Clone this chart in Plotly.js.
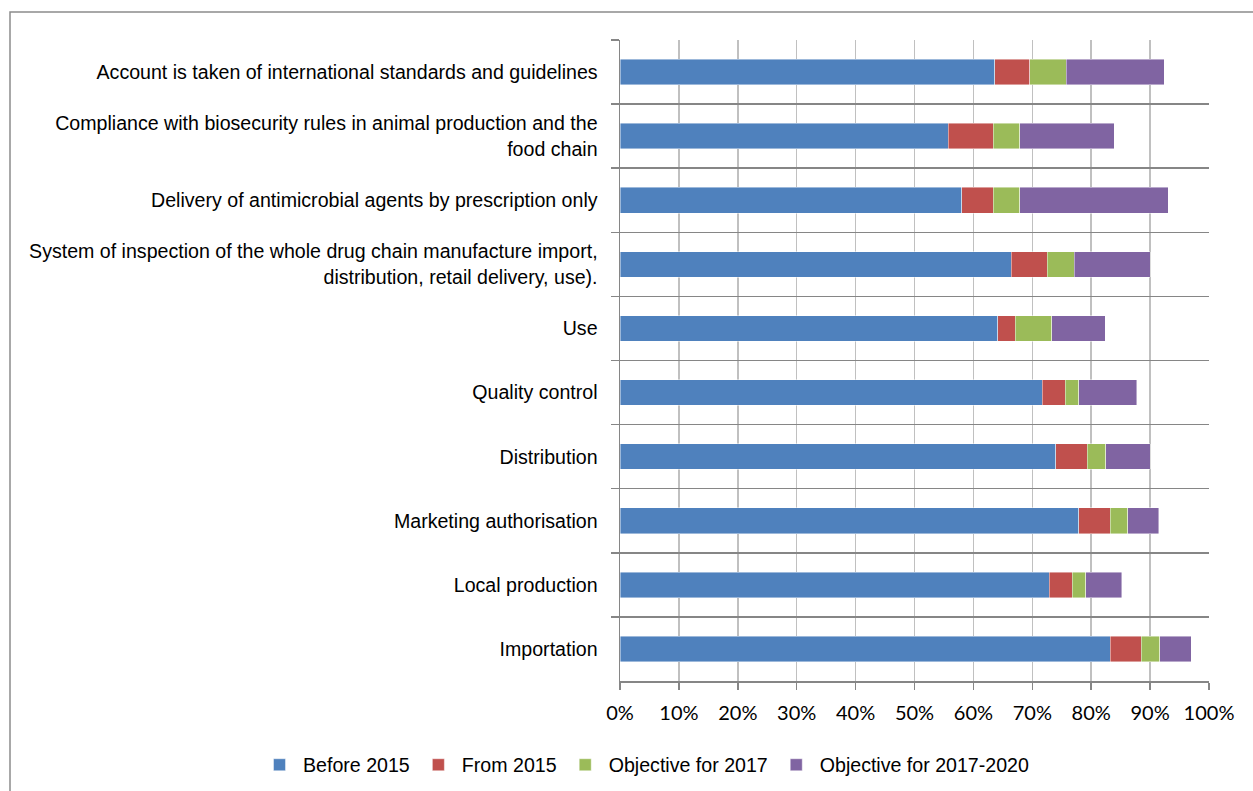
<!DOCTYPE html>
<html>
<head>
<meta charset="utf-8">
<script src="https://cdn.plot.ly/plotly-3.0.1.min.js"></script>
<style>
html,body{margin:0;padding:0;background:#fff;}
#chart{width:1253px;height:791px;}
</style>
</head>
<body>
<div id="chart"></div>
<script>
// Categories, top to bottom as in the reference
var categories = [
  "Account is taken of international standards and guidelines",
  "Compliance with biosecurity rules in animal production and the<br>food chain",
  "Delivery of antimicrobial agents by prescription only",
  "System of inspection of the whole drug chain manufacture import,<br>distribution, retail delivery, use).",
  "Use",
  "Quality control",
  "Distribution",
  "Marketing authorisation",
  "Local production",
  "Importation"
];
var seriesNames = ["Before 2015", "From 2015", "Objective for 2017", "Objective for 2017-2020"];
var before2015    = [0.636, 0.557, 0.580, 0.664, 0.641, 0.717, 0.740, 0.779, 0.729, 0.832];
var from2015      = [0.060, 0.077, 0.054, 0.061, 0.030, 0.039, 0.053, 0.053, 0.039, 0.053];
var objective2017 = [0.062, 0.045, 0.045, 0.046, 0.062, 0.023, 0.032, 0.030, 0.023, 0.031];
var objective2020 = [0.166, 0.160, 0.252, 0.129, 0.091, 0.098, 0.075, 0.053, 0.061, 0.054];
var xTickVals = [0, 0.1, 0.2, 0.3, 0.4, 0.5, 0.6, 0.7, 0.8, 0.9, 1.0];
var xTickText = ["0%", "10%", "20%", "30%", "40%", "50%", "60%", "70%", "80%", "90%", "100%"];

var colors = ["#4f81bd", "#c0504d", "#9bbb59", "#8064a2"];
var values = [before2015, from2015, objective2017, objective2020];

var narrow = '"Liberation Sans Narrow", "Arial Narrow", "Liberation Sans", Arial, sans-serif';
var calibri = 'Lato, "Open Sans", sans-serif';

var traces = values.map(function (v, i) {
  return {
    type: "bar",
    orientation: "h",
    name: seriesNames[i],
    x: v,
    y: categories,
    marker: {color: colors[i], line: {color: "rgba(255,255,255,0.55)", width: 0.8}},
    hoverinfo: "x+name"
  };
});

var L = 620, R = 44, T = 40, B = 110;
var W = 1253, H = 791;
var pw = W - L - R, ph = H - T - B;
function px2x(px) { return (px - L) / pw; }
function py2y(py) { return (H - B - py) / ph; }

var layout = {
  width: W, height: H,
  margin: {l: L, r: R, t: T, b: B, pad: 0, autoexpand: false},
  barmode: "stack",
  bargap: 0.6,
  paper_bgcolor: "#ffffff",
  plot_bgcolor: "#ffffff",
  showlegend: true,
  legend: {
    orientation: "h",
    x: px2x(256), xanchor: "left",
    y: py2y(765), yanchor: "middle",
    font: {family: narrow, size: 19.6, color: "#000"},
    itemwidth: 37,
    traceorder: "normal"
  },
  xaxis: {
    range: [0, 1],
    tickvals: xTickVals,
    ticktext: xTickText,
    showgrid: true,
    gridcolor: "#c0c0c0",
    gridwidth: 1.5,
    zeroline: false,
    showline: true,
    linecolor: "#868686",
    linewidth: 1.5,
    ticks: "outside",
    ticklen: 7,
    tickcolor: "#868686",
    tickwidth: 1.5,
    ticklabelstandoff: 6,
    tickfont: {family: calibri, size: 20, color: "#000"},
    fixedrange: true
  },
  yaxis: {
    type: "category",
    autorange: "reversed",
    tickson: "boundaries",
    showgrid: true,
    gridcolor: "#868686",
    gridwidth: 1.5,
    showline: true,
    linecolor: "#868686",
    linewidth: 1.5,
    ticks: "outside",
    ticklen: 8,
    tickcolor: "#868686",
    tickwidth: 1.5,
    ticklabelstandoff: 17,
    tickfont: {family: narrow, size: 19.6, color: "#000"},
    fixedrange: true
  },
  shapes: [{
    type: "rect", xref: "paper", yref: "paper",
    x0: px2x(10), x1: px2x(1262),
    y0: py2y(805), y1: py2y(12),
    line: {color: "#8c8c8c", width: 1.5},
    fillcolor: "rgba(0,0,0,0)",
    layer: "below"
  }]
};

Plotly.newPlot("chart", traces, layout, {displayModeBar: false, staticPlot: true});
</script>
</body>
</html>
